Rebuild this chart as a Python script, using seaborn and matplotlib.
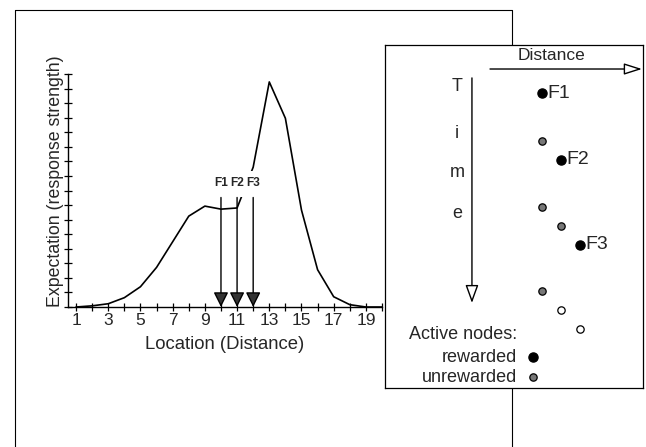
import matplotlib
matplotlib.use("Agg")
import matplotlib.pyplot as plt
import seaborn as sns
import pandas as pd
from matplotlib.lines import Line2D
from matplotlib.patches import Rectangle

# ---------------- data ----------------
location = list(range(1, 21))
expectation = [0.0, 0.005, 0.014, 0.04, 0.087, 0.17, 0.28, 0.39, 0.433, 0.42,
               0.425, 0.60, 0.966, 0.81, 0.416, 0.16, 0.044, 0.01, 0.0, 0.0]
feeder_names = ["F1", "F2", "F3"]
feeder_locations = [10, 11, 12]
xtick_values = list(range(1, 21))
xtick_labels = [str(v) if v % 2 == 1 else "" for v in xtick_values]

# inset: active nodes in a distance x time grid
node_distance = [1, 1, 2, 1, 2, 3, 1, 2, 3]
node_time = [0, 2.5, 3.5, 6, 7, 8, 10.4, 11.4, 12.4]
node_type = ["rewarded", "unrewarded", "rewarded", "unrewarded", "unrewarded",
             "rewarded", "unrewarded", "inactive", "inactive"]
node_label = ["F1", "", "F2", "", "", "F3", "", "", ""]
time_letters = ["T", "i", "m", "e"]
legend_entries = ["rewarded", "unrewarded"]

# ---------------- style ----------------
sns.set_style("white")
plt.rcParams["font.family"] = ["Liberation Sans", "DejaVu Sans"]

W, H = 646, 447
fig = plt.figure(figsize=(W / 100, H / 100), dpi=100)

def fx(px):
    return px / W

def fy(py):
    return 1 - py / H

# outer frame lines (scanned figure border)
frame_kw = dict(color="black", lw=0.8, transform=fig.transFigure, zorder=0)
fig.add_artist(Line2D([fx(15), fx(15)], [fy(447), fy(10)], **frame_kw))
fig.add_artist(Line2D([fx(15), fx(512)], [fy(10), fy(10)], **frame_kw))
fig.add_artist(Line2D([fx(512), fx(512)], [fy(10), fy(46)], **frame_kw))
fig.add_artist(Line2D([fx(512), fx(512)], [fy(388), fy(447)], **frame_kw))

# ---------------- main axes ----------------
ax = fig.add_axes([fx(68), fy(307), fx(382) - fx(68), fy(74) - fy(307)])
ax.patch.set_alpha(0)
df = pd.DataFrame({"loc": location, "exp": expectation})
sns.lineplot(data=df, x="loc", y="exp", ax=ax, color="black", lw=1.2, zorder=2)

ax.set_xlim(0.5, 20)
ax.set_ylim(0, 1)
sns.despine(ax=ax, top=True, right=True)
for s in ["left", "bottom"]:
    ax.spines[s].set_color("black")
    ax.spines[s].set_linewidth(1.0)

ax.set_xticks(xtick_values)
ax.set_xticklabels(xtick_labels, fontsize=12.5)
ax.set_yticks([i / 16 for i in range(17)])
ax.set_yticklabels([])
ax.tick_params(axis="both", direction="inout", length=6, width=0.9, color="black",
               bottom=True, left=True)
ax.tick_params(axis="x", pad=1)

ax.set_xlabel("Location (Distance)", fontsize=13.3)
ax.xaxis.set_label_coords(0.5, -0.125)
ax.set_ylabel("Expectation (response strength)", fontsize=12.8)
ax.yaxis.set_label_coords(-0.012, 0.54)

# white gap behind feeder labels
ax.add_patch(Rectangle((9.6, 0.47), 2.8, 0.115, facecolor="white",
                       edgecolor="none", zorder=3))

for name, fl in zip(feeder_names, feeder_locations):
    ax.annotate("", xy=(fl, 0), xytext=(fl, 0.47),
                arrowprops=dict(arrowstyle="-|>,head_length=0.9,head_width=0.45",
                                lw=1.0, edgecolor="black", facecolor="#333",
                                shrinkA=0, shrinkB=0), zorder=4)
    ax.text(fl, 0.532, name, ha="center", va="center", fontsize=8.6,
            fontweight="bold", zorder=5)

# ---------------- inset ----------------
ax_in = fig.add_axes([fx(385), fy(388), fx(643) - fx(385), fy(45) - fy(388)])
ax_in.set_facecolor("white")
ax_in.set_zorder(5)
for s in ax_in.spines.values():
    s.set_visible(True)
    s.set_color("black")
    s.set_linewidth(0.9)
ax_in.set_xticks([])
ax_in.set_yticks([])
ax_in.set_xlim(-7.26, 6.32)
ax_in.set_ylim(15.53, -2.53)

nodes = pd.DataFrame({"d": node_distance, "t": node_time, "type": node_type,
                      "label": node_label})
styles = {"rewarded": ("black", 44), "unrewarded": ("#777777", 28),
          "inactive": ("white", 28)}
for typ, (fc, sz) in styles.items():
    sub = nodes[nodes["type"] == typ]
    sns.scatterplot(data=sub, x="d", y="t", ax=ax_in, color=fc, s=sz,
                    edgecolor="black", linewidth=0.9, legend=False, zorder=3)
for _, r in nodes.iterrows():
    if r["label"]:
        ax_in.annotate(r["label"], (r["d"], r["t"]), xytext=(4, 0),
                       textcoords="offset points", va="center", ha="left",
                       fontsize=14)
ax_in.set_xlabel("")
ax_in.set_ylabel("")

T = ax_in.transAxes
ax_in.text(0.647, 0.968, "Distance", transform=T, ha="center", va="center",
           fontsize=12.5)
ax_in.annotate("", xy=(0.996, 0.930), xytext=(0.407, 0.930), xycoords=T,
               arrowprops=dict(arrowstyle="-|>,head_length=1.1,head_width=0.35",
                               lw=1.0, edgecolor="black", facecolor="white",
                               shrinkA=0, shrinkB=0))
ax_in.annotate("", xy=(0.337, 0.248), xytext=(0.337, 0.904), xycoords=T,
               arrowprops=dict(arrowstyle="-|>,head_length=1.1,head_width=0.4",
                               lw=1.0, edgecolor="black", facecolor="white",
                               shrinkA=0, shrinkB=0))
for letter, yy in zip(time_letters, [0.878, 0.743, 0.627, 0.510]):
    ax_in.text(0.279, yy, letter, transform=T, ha="center", va="center",
               fontsize=13)

ax_in.text(0.512, 0.155, "Active nodes:", transform=T, ha="right", va="center",
           fontsize=13)
for lab, yy, typ in zip(legend_entries, [0.090, 0.032], ["rewarded", "unrewarded"]):
    ax_in.text(0.512, yy, lab, transform=T, ha="right", va="center", fontsize=13)
    fc, sz = styles[typ]
    ax_in.scatter([0.574], [yy], transform=T, s=sz, color=fc,
                  edgecolor="black", linewidth=0.9, zorder=4)

fig.savefig("out.png", dpi=100)
